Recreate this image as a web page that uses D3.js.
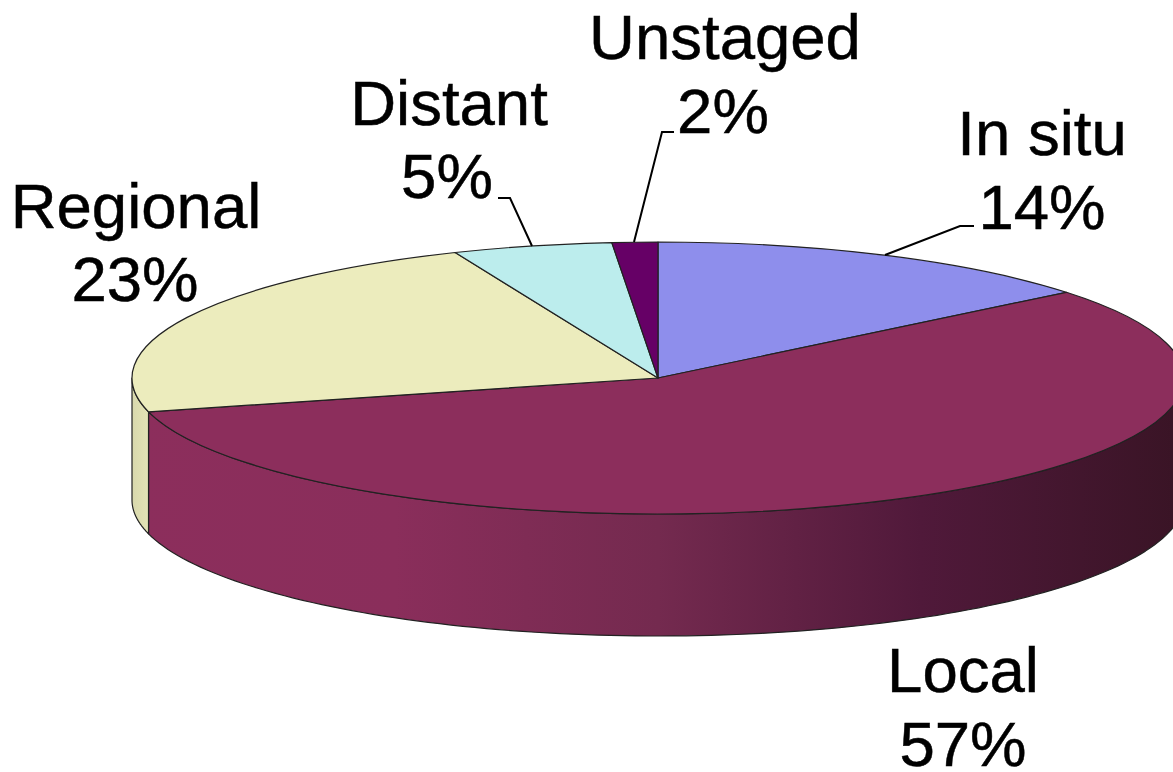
<!DOCTYPE html>
<html><head><meta charset="utf-8">
<script src="https://cdn.jsdelivr.net/npm/d3@7"></script>
<style>html,body{margin:0;padding:0;background:#fff;overflow:hidden}svg{display:block}text{font-family:"Liberation Sans",Arial,sans-serif;font-size:63.5px;fill:#000;stroke:#000;stroke-width:.5px;text-anchor:middle}</style>
</head><body><script>
const categories = ["In situ","Local","Regional","Distant","Unstaged"];
const shares = [14.15, 56.85, 22.7, 4.9, 1.4];
const percentLabels = ["14%","57%","23%","5%","2%"];
const sliceColors = ["#8E8EEC","#8C2E5C","#ECECBD","#BCEDED","#660066"];

const W=1173,H=772,cx=658,cy=378,rx=526,ry=136,depth=122;
const svg=d3.select("body").append("svg").attr("width",W).attr("height",H);
const defs=svg.append("defs");
const g1=defs.append("linearGradient").attr("id","wallLocal").attr("gradientUnits","userSpaceOnUse")
  .attr("x1",cx-rx).attr("x2",cx+rx).attr("y1",0).attr("y2",0);
[[0,"#8C2E5C"],[0.25,"#8A2E5B"],[0.5,"#742A4F"],[0.75,"#50193A"],[1,"#391425"]].forEach(([o,c])=>g1.append("stop").attr("offset",o).attr("stop-color",c));
const g2=defs.append("linearGradient").attr("id","wallRegional").attr("gradientUnits","userSpaceOnUse")
  .attr("x1",cx-rx).attr("x2",cx-rx+20).attr("y1",0).attr("y2",0);
[[0,"#D8D8AC"],[1,"#E6E6B8"]].forEach(([o,c])=>g2.append("stop").attr("offset",o).attr("stop-color",c));

const pie=d3.pie().sort(null).value(d=>d);
const arcs=pie(shares);
const px=a=>cx+rx*Math.sin(a), py=a=>cy-ry*Math.cos(a);

// side walls: visible part of each slice (front half of the ellipse)
const wall=d3.area().x(a=>px(a)).y0(a=>py(a)).y1(a=>py(a)+depth);
function wallAngles(a0,a1){
  const s=Math.max(a0,Math.PI/2),e=Math.min(a1,3*Math.PI/2);
  if(e<=s)return null;
  const n=120;return d3.range(n+1).map(i=>s+(e-s)*i/n);
}
const wallFill={1:"url(#wallLocal)",2:"url(#wallRegional)"};
arcs.forEach((d,i)=>{
  const pts=wallAngles(d.startAngle,d.endAngle);
  if(!pts)return;
  svg.append("path").attr("d",wall(pts)).attr("fill",wallFill[i]||sliceColors[i])
    .attr("stroke","#222").attr("stroke-width",1.2).attr("stroke-linejoin","round");
});

// top face
const arc=d3.arc().innerRadius(0).outerRadius(rx);
const topFace=svg.append("g").attr("transform",`translate(${cx},${cy}) scale(1,${ry/rx})`);
topFace.selectAll("path").data(arcs).join("path").attr("d",arc)
  .attr("fill",(d,i)=>sliceColors[i]).attr("stroke","#222").attr("stroke-width",1.2)
  .attr("vector-effect","non-scaling-stroke").attr("stroke-linejoin","round");

// labels
const labelPos=[[1042,155,229],[963,692,766],[136,228,301],[449,125,198],[725,59,133]];
const pctX=[1042,963,135,447,723];
const leaders=[[[885,255],[960,226],[974,226]],null,null,[[532,246],[510,198],[498,198]],[[634,242],[662,132],[674,132]]];
const line=d3.line();
leaders.forEach(l=>{ if(l) svg.append("path").attr("d",line(l)).attr("fill","none").attr("stroke","#000").attr("stroke-width",2); });
categories.forEach((c,i)=>{
  const [x,y1,y2]=labelPos[i];
  svg.append("text").attr("x",x).attr("y",y1).text(c);
  svg.append("text").attr("x",pctX[i]).attr("y",y2).text(percentLabels[i]);
});
</script></body></html>
